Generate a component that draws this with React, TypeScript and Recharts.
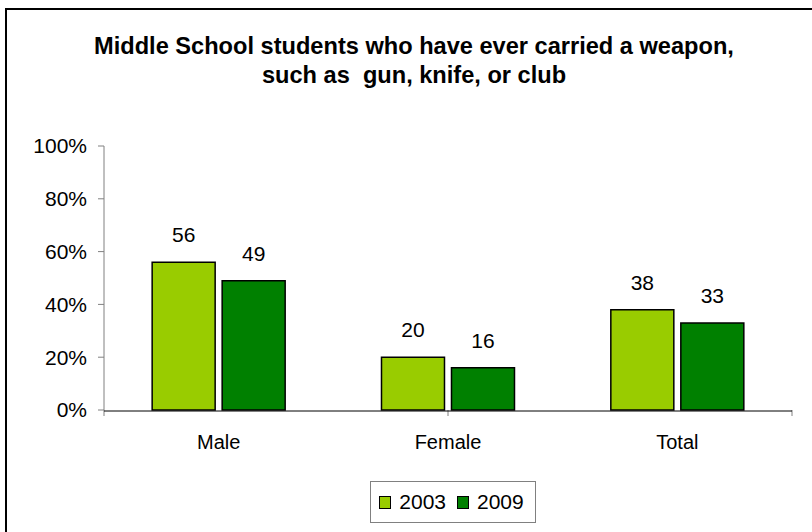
import React from 'react';
import { BarChart, Bar, XAxis, YAxis, LabelList, Legend } from 'recharts';

const groups = ['Male', 'Female', 'Total'];
const values2003 = [56, 20, 38];
const values2009 = [49, 16, 33];
const yTicks = [0, 20, 40, 60, 80, 100];
const edgeTicks = [0, 1, 2, 3];

const series = [
  { key: 'y2003', name: '2003', color: '#99CC00' },
  { key: 'y2009', name: '2009', color: '#008000' },
];

const rows = groups.map((g, i) => ({ group: g, y2003: values2003[i], y2009: values2009[i] }));

const FONT = 'Arial, "Liberation Sans", sans-serif';

const LegendBox: React.FC = () => (
  <div
    style={{
      display: 'inline-flex',
      alignItems: 'center',
      border: '1px solid #808080',
      padding: '8px 11px 8px 8px',
      background: '#fff',
      fontFamily: FONT,
      fontSize: 21,
      color: '#000',
    }}
  >
    {series.map((s, i) => (
      <span key={s.key} style={{ display: 'inline-flex', alignItems: 'center', marginLeft: i ? 11 : 0 }}>
        <span
          style={{
            display: 'inline-block',
            width: 10,
            height: 11,
            background: s.color,
            border: '1.5px solid #000',
            marginRight: 8,
          }}
        />
        {s.name}
      </span>
    ))}
  </div>
);

const App: React.FC = () => (
  <div style={{ position: 'fixed', left: 0, top: 0, width: 812, height: 532, overflow: 'hidden', background: '#fff' }}>
    <div
      style={{
        position: 'absolute',
        left: 5,
        top: 8,
        width: 900,
        height: 700,
        border: '2px solid #000',
      }}
    />
    <div
      style={{
        position: 'absolute',
        left: 0,
        width: 828,
        top: 32,
        textAlign: 'center',
        fontFamily: FONT,
        fontWeight: 'bold',
        fontSize: 23.6,
        lineHeight: '29px',
        whiteSpace: 'pre',
        color: '#000',
      }}
    >
      {'Middle School students who have ever carried a weapon,\nsuch as  gun, knife, or club'}
    </div>
    <div style={{ position: 'absolute', left: 0, top: 0 }}>
      <BarChart
        width={812}
        height={532}
        data={rows}
        margin={{ top: 146, right: 20, bottom: 8, left: 0 }}
        barCategoryGap="21%"
        barGap={7}
      >
        <XAxis
          xAxisId="a"
          type="number"
          domain={[0, 3]}
          ticks={edgeTicks}
          allowDataOverflow
          tick={() => <g />}
          axisLine={false}
          tickLine={{ stroke: '#808080' }}
          tickSize={6}
          height={1}
        />
        <XAxis
          xAxisId="b"
          dataKey="group"
          tickLine={false}
          tickSize={0}
          tickMargin={24}
          axisLine={{ stroke: '#000', strokeWidth: 1 }}
          tick={{ fill: '#000', fontSize: 20, fontFamily: FONT }}
          height={44}
        />
        <YAxis
          domain={[0, 100]}
          ticks={yTicks}
          tickFormatter={(v: number) => `${v}%`}
          width={104}
          tickSize={6}
          tickMargin={11}
          axisLine={{ stroke: '#808080' }}
          tickLine={{ stroke: '#808080' }}
          tick={{ fill: '#000', fontSize: 21, fontFamily: FONT }}
        />
        <Legend verticalAlign="bottom" align="center" height={69} content={() => (
          <div style={{ display: 'flex', justifyContent: 'center', paddingLeft: 114, paddingTop: 26 }}>
            <LegendBox />
          </div>
        )} />
        {series.map((s) => (
          <Bar
            key={s.key}
            xAxisId="b"
            dataKey={s.key}
            name={s.name}
            fill={s.color}
            stroke="#000"
            strokeWidth={1.5}
            isAnimationActive={false}
          >
            <LabelList
              dataKey={s.key}
              position="top"
              offset={20}
              style={{ fill: '#000', fontSize: 21, fontFamily: FONT }}
            />
          </Bar>
        ))}
      </BarChart>
    </div>
  </div>
);

export default App;
